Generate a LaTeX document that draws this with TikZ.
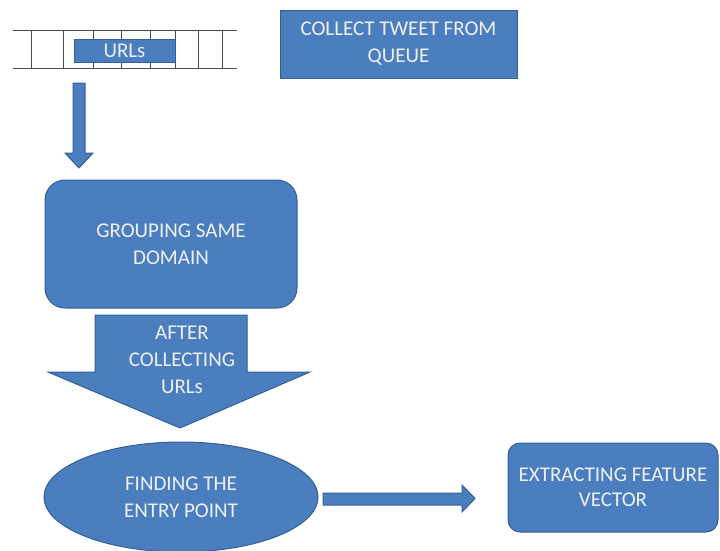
\documentclass[tikz,border=0pt]{standalone}
\usepackage{fontspec}
\setmainfont{Carlito}
\usetikzlibrary{shapes.geometric}
\definecolor{boxblue}{HTML}{4A7EBF}
\definecolor{edgeblue}{HTML}{34609A}
\begin{document}
\begin{tikzpicture}[x=1pt,y=-1pt,
  blockfill/.style={fill=boxblue, draw=edgeblue, line width=1pt},
  boxtext/.style={text=white!94!black, font=\fontsize{21}{27}\selectfont, align=center},
  queueline/.style={draw=black!70, line width=0.8pt}]
\useasboundingbox (0,0) rectangle (720,550);

% queue of cells
\coordinate (qtl) at (13,30);
\coordinate (qtr) at (237,30);
\coordinate (qbl) at (13,68);
\coordinate (qbr) at (237,68);
\draw[queueline] (qtl) -- (qtr);
\draw[queueline] (qbl) -- (qbr);
\foreach \x in {31,63,93,121,150,175,198,222}
  \draw[queueline] (\x,30) -- (\x,68);

% item sitting in the queue
\node[blockfill, boxtext, minimum width=101pt, minimum height=23pt, inner sep=0pt]
  (urls) at (124.5,50.5) {URLs};

% collect step
\node[blockfill, boxtext, minimum width=237pt, minimum height=68pt, inner sep=0pt]
  (collect) at (398.5,44) {COLLECT TWEET FROM\\QUEUE};

% block arrow from queue down to grouping
\filldraw[blockfill] (73,83) -- (85,83) -- (85,153) -- (93,153) -- (79,168)
  -- (65,153) -- (73,153) -- cycle;

% grouping step
\node[blockfill, boxtext, rounded corners=20pt, minimum width=252pt, minimum height=128pt, inner sep=0pt]
  (group) at (171,244) {GROUPING SAME\\DOMAIN};

% wide block arrow carrying its own text
\filldraw[blockfill] (95,315) -- (247,315) -- (247,372) -- (310,372) -- (180,428)
  -- (48,372) -- (95,372) -- cycle;
\node[boxtext] (after) at (182,360) {AFTER\\COLLECTING\\URLs};

% entry point
\node[blockfill, boxtext, ellipse, minimum width=274pt, minimum height=110pt, inner sep=0pt]
  (entry) at (181,497) {FINDING THE\\ENTRY POINT};

% feature extraction
\node[blockfill, boxtext, font=\fontsize{21}{25}\selectfont, rounded corners=12pt, minimum width=210pt, minimum height=89pt, inner sep=0pt]
  (extract) at (613,487.5) {EXTRACTING FEATURE\\VECTOR};

% horizontal block arrow between entry point and extraction
\filldraw[blockfill] (323,493) -- (462,493) -- (462,485) -- (475,498.5)
  -- (462,512) -- (462,505) -- (323,505) -- cycle;
\end{tikzpicture}
\end{document}
